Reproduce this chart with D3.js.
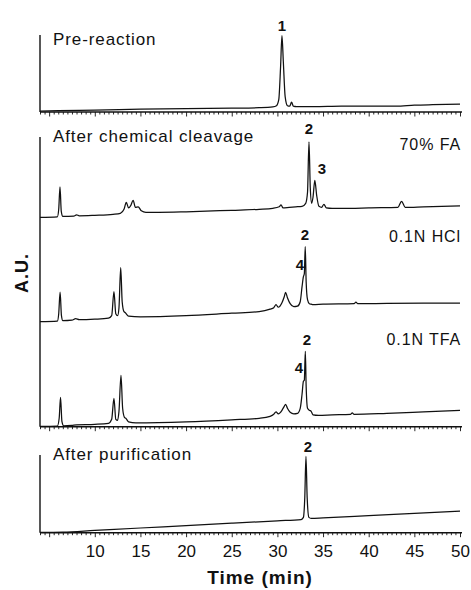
<!DOCTYPE html>
<html><head><meta charset="utf-8">
<script src="https://cdn.jsdelivr.net/npm/d3@7/dist/d3.min.js"></script>
<style>
html,body{margin:0;padding:0;background:#fff;}
svg{display:block;font-family:"Liberation Sans",Arial,sans-serif;}
</style></head>
<body>
<svg id="chart" width="471" height="590"></svg>
<script>
// ---------- data (time in min, signal in A.U.) ----------
const preTime = [4,6,10,15,20,25,28,29.5,29.9,30.15,30.35,30.5,30.65,30.85,31.1,31.35,31.55,31.75,32.1,34,37,40,43,45,47,50];
const preSignal = [0.5,1,1.5,2.5,3,3.5,4,4.8,6,12,45,76,50,15,6,5.5,9.5,5.5,5,5,5.5,5.5,5.5,6.5,7,7.5];

const faTime = [4,5.9,6.05,6.19,6.33,6.5,7.7,8.0,8.3,10,12,12.8,13.2,13.45,13.7,13.95,14.2,14.45,14.75,15.1,15.6,17,20,25,28,29.5,30.2,30.4,30.6,31.3,32,32.7,33.1,33.3,33.46,33.6,33.75,33.9,34.1,34.3,34.55,34.85,35.1,35.35,36,38,40,43.2,43.6,44,46,48,50];
const faSignal = [0,0.5,8,30.5,6,1,1.2,2.5,1.5,2,3,4,8,15,9.5,12,17,10,10.5,6.5,5,5,5.5,7,8,9,10.5,12.5,9.5,10,10.5,11,14,25,75.5,30,14,20,37,22,11,10,13,9.5,9,9,9.5,10,16,10,10.5,11,11.5];

const hclTime = [4,5.9,6.05,6.2,6.35,6.5,7.5,7.9,8.3,10,11.5,11.85,12.1,12.3,12.5,12.65,12.84,13.0,13.2,13.35,13.7,15,20,25,28,29.2,29.6,29.85,30.1,30.5,30.75,30.9,31.1,31.4,31.8,32.2,32.5,32.7,32.85,32.95,33.05,33.15,33.3,33.5,33.7,33.9,35,38.4,38.6,38.8,42,46,50];
const hclSignal = [0,0.5,8,29.5,6,1,1.5,3,2,2.5,3.5,6,30,8,6,14,54,20,10,9,5.5,4.8,6,8.5,10,12.5,14,17,14.5,19,25,29.4,24,18,15,15.5,20,35,45,48,75,40,22,18,17.5,17,17.5,18,19.5,18,18.3,18.5,18.7];

const tfaTime = [4,5.9,6.1,6.25,6.4,6.6,7.5,8,10,11.5,11.85,12.1,12.3,12.5,12.65,12.87,13.05,13.25,13.4,13.7,14.5,20,25,28,29.2,29.6,29.85,30.1,30.5,30.75,30.9,31.1,31.4,31.8,32.2,32.5,32.7,32.85,32.95,33.06,33.15,33.3,33.5,33.7,33.9,34.5,36,38,38.2,38.4,42,46,50];
const tfaSignal = [0,0.3,8,29,5,0.5,1,1.5,2,3,7,28,7,6,15,51,18,9,8,4.5,3.5,4.5,6.5,8,10,12,14.5,12.5,16,20,22,18,14,12.5,13,18,32,45,46,75,40,18,16,15,11.5,11,11.5,12,13.5,12,13,14.5,16];

const purTime = [4,6.5,10,15,20,25,30,32.6,32.85,33.0,33.13,33.26,33.45,33.7,35,40,45,50];
const purSignal = [0,0.3,2,4.4,6.8,9.2,11.6,12.8,15,35,76,35,15,14,14.5,16.8,19.1,21.3];

const tickLabels = [10,15,20,25,30,35,40,45,50];
const panelTitles = ["Pre-reaction","After chemical cleavage","After purification"];
const conditionLabels = ["70% FA","0.1N HCl","0.1N TFA"];
const peakLabels = ["1","2","3","2","4","2","4","2"];

// ---------- layout ----------
const svg = d3.select("#chart");
const x = d3.scaleLinear().domain([4,50]).range([40,460]);
const ink = "#111";

// panels: top of y axis, x-axis position
const panels = [
  {top:35, axisY:112},
  {top:137, axisY:426.7},
  {top:455, axisY:532.7}
];

// traces: baseline pixel, data
const traces = [
  {t:preTime, v:preSignal, base:111.7},
  {t:faTime,  v:faSignal,  base:217.3},
  {t:hclTime, v:hclSignal, base:321.7},
  {t:tfaTime, v:tfaSignal, base:426.3},
  {t:purTime, v:purSignal, base:532.4}
];

// axes
panels.forEach((p,i)=>{
  const g = svg.append("g");
  g.append("line").attr("x1",40).attr("x2",40).attr("y1",p.top).attr("y2",p.axisY)
    .attr("stroke",ink).attr("stroke-width",1.4);
  const minor = d3.range(4,50.01,0.5);
  const axis = d3.axisBottom(x).tickValues(minor).tickSize(2.5).tickFormat("");
  const ga = g.append("g").attr("transform",`translate(0,${p.axisY})`).call(axis);
  ga.select(".domain").attr("stroke",ink).attr("stroke-width",1.4).attr("d",`M40,0H462`);
  ga.selectAll(".tick line").attr("stroke",ink).attr("stroke-width",0.9)
    .attr("y2",d=> (Math.abs(d%5)<1e-6) ? 4.5 : 2.5);
  if(i===2){
    const lab = d3.axisBottom(x).tickValues(tickLabels).tickSize(0).tickPadding(0).tickFormat(d=>d);
    const gl = g.append("g").attr("transform",`translate(0,${p.axisY})`).call(lab);
    gl.select(".domain").remove();
    gl.selectAll("text").attr("y",24).attr("dy",0).attr("font-size",17)
      .attr("font-family","Liberation Sans, Arial, sans-serif").attr("fill",ink);
  }
});

// traces
const line = d3.line().curve(d3.curveMonotoneX);
traces.forEach(tr=>{
  const y = d3.scaleLinear().domain([0,100]).range([tr.base, tr.base-100]);
  const pts = tr.t.map((t,i)=>[x(t), y(tr.v[i])]);
  svg.append("path").attr("d",line(pts)).attr("fill","none")
    .attr("stroke",ink).attr("stroke-width",1.25).attr("stroke-linejoin","round");
});

// texts
const titlePos = [[53,45],[53,141.5],[53,460]];
panelTitles.forEach((s,i)=>{
  svg.append("text").attr("x",titlePos[i][0]).attr("y",titlePos[i][1])
    .attr("font-size",17).attr("letter-spacing",0.9).attr("fill",ink).text(s);
});
const condPos = [[461,150],[461,241.5],[461,345]];
conditionLabels.forEach((s,i)=>{
  svg.append("text").attr("x",condPos[i][0]).attr("y",condPos[i][1]).attr("text-anchor","end")
    .attr("font-size",16).attr("letter-spacing",0.9).attr("fill",ink).text(s);
});
const peakPos = [[282,30.5],[309,134],[322,174],[305,240],[300,270],[307,345],[299,373],[308,452]];
peakLabels.forEach((s,i)=>{
  svg.append("text").attr("x",peakPos[i][0]).attr("y",peakPos[i][1]).attr("text-anchor","middle")
    .attr("font-size",15).attr("font-weight","bold").attr("fill",ink).text(s);
});
svg.append("text").attr("x",260).attr("y",584).attr("text-anchor","middle")
  .attr("font-size",19).attr("font-weight","bold").attr("letter-spacing",1).attr("fill",ink).text("Time (min)");
svg.append("text").attr("transform","translate(28,273) rotate(-90)").attr("text-anchor","middle")
  .attr("font-size",18).attr("font-weight","bold").attr("letter-spacing",1).attr("fill",ink).text("A.U.");
</script>
</body></html>
